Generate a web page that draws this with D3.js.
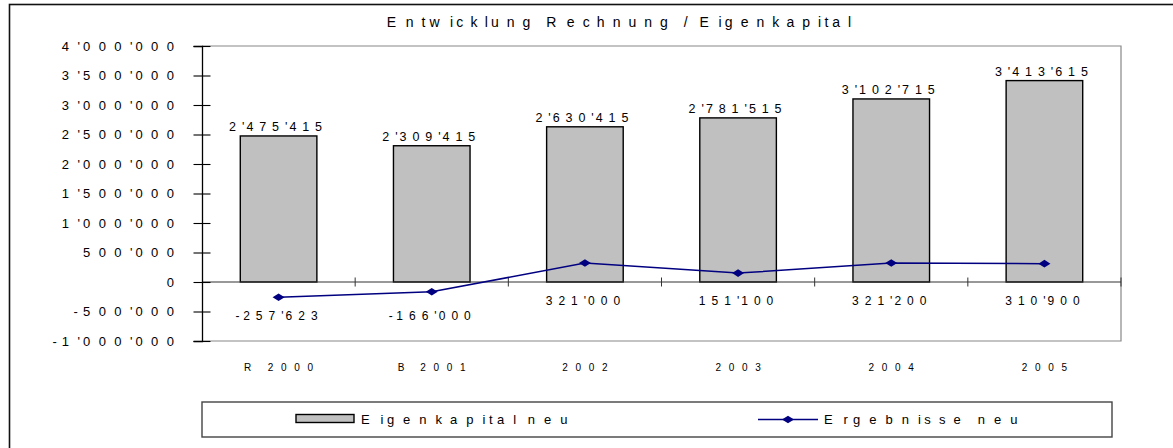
<!DOCTYPE html>
<meta charset="utf-8">
<style>
    body {
        margin: 0;
        background: #fff;
    }
    svg text {
        font-family: "Liberation Sans", Arial, sans-serif;
        fill: #000;
    }
</style>

<body>
    <script src="https://cdn.jsdelivr.net/npm/d3@7"></script>
    <script>
        var categories = ["R 2000", "B 2001", "2002", "2003", "2004", "2005"];
        var eigenkapital = [2475415, 2309415, 2630415, 2781515, 3102715, 3413615];
        var ergebnisse = [-257623, -166000, 321000, 151100, 321200, 310900];
        var yTicks = [-1000000, -500000, 0, 500000, 1000000, 1500000, 2000000, 2500000, 3000000, 3500000, 4000000];
        var seriesNames = ["Eigenkapital neu", "Ergebnisse neu"];
        var title = "Entwicklung Rechnung / Eigenkapital";

        var width = 1173,
            height = 448;

        var fmt = d3.formatLocale({
            decimal: ".",
            thousands: "'",
            grouping: [3],
            currency: ["", ""],
            minus: "-"
        }).format(",d");

        var svg = d3.select("body").append("svg")
            .attr("width", width)
            .attr("height", height);

        // the old chart spreads every glyph out: advance = s * natural width
        var ctx = document.createElement("canvas").getContext("2d");

        function spaced(parent, str, x, y, size, s, anchor) {
            ctx.font = size + 'px "Liberation Sans", Arial, sans-serif';
            var chars = str.split(""),
                pos = [],
                cur = 0;
            chars.forEach(function (c) {
                pos.push(cur);
                cur += ctx.measureText(c).width * s;
            });
            var span = pos[pos.length - 1] + ctx.measureText(chars[chars.length - 1]).width;
            var x0 = anchor === "end" ? x - span : anchor === "middle" ? x - span / 2 : x;
            return parent.append("text")
                .attr("x", pos.map(function (p) { return (x0 + p).toFixed(2); }).join(" "))
                .attr("y", y)
                .attr("dy", ".35em")
                .style("font-size", size + "px")
                .text(str);
        }

        var x = d3.scaleBand()
            .domain(categories)
            .range([202, 1121])
            .paddingInner(0.5)
            .paddingOuter(0.25);

        var y = d3.scaleLinear()
            .domain([-1000000, 4000000])
            .range([341, 46]);

        // outer frame
        svg.append("rect")
            .attr("x", 9.5).attr("y", 4.5)
            .attr("width", 1300).attr("height", 600)
            .attr("fill", "none")
            .attr("stroke", "#111")
            .attr("stroke-width", 1.6);

        spaced(svg, title, 619, 22, 14, 2.03, "middle");

        // plot area frame (grey)
        svg.append("path")
            .attr("d", "M" + x.range()[0] + "," + y(4000000) + "H" + x.range()[1] + "V" + y(-1000000) + "H" + x.range()[0])
            .attr("fill", "none")
            .attr("stroke", "#888")
            .attr("stroke-width", 1.2);

        // bars
        svg.append("g").selectAll("rect")
            .data(eigenkapital)
            .join("rect")
            .attr("x", function (d, i) { return x(categories[i]); })
            .attr("y", function (d) { return y(d); })
            .attr("width", x.bandwidth())
            .attr("height", function (d) { return y(0) - y(d); })
            .attr("fill", "#c0c0c0")
            .attr("stroke", "#000")
            .attr("stroke-width", 1.4);

        eigenkapital.forEach(function (d, i) {
            spaced(svg, fmt(d), x(categories[i]) + x.bandwidth() / 2 - 3, y(d) - 9, 12.5, 1.85, "middle");
        });

        // zero line with crossing ticks at band edges
        svg.append("line")
            .attr("x1", x.range()[0]).attr("x2", x.range()[1])
            .attr("y1", y(0)).attr("y2", y(0))
            .attr("stroke", "#333")
            .attr("stroke-width", 1.1);

        svg.append("g").selectAll("line")
            .data(d3.range(1, categories.length + 1))
            .join("line")
            .attr("x1", function (k) { return x.range()[0] + k * x.step(); })
            .attr("x2", function (k) { return x.range()[0] + k * x.step(); })
            .attr("y1", y(0) - 4.5)
            .attr("y2", y(0) + 4.5)
            .attr("stroke", "#333")
            .attr("stroke-width", 1);

        // y axis
        var yAxis = svg.append("g")
            .attr("transform", "translate(" + x.range()[0] + ",0)")
            .call(d3.axisLeft(y).tickValues(yTicks).tickSize(8.5).tickFormat(""));
        yAxis.select(".domain").attr("stroke", "#000").attr("stroke-width", 1.3);
        yAxis.selectAll(".tick line").attr("x1", 8.5).attr("stroke", "#000").attr("stroke-width", 1.1);

        yTicks.forEach(function (t) {
            spaced(svg, fmt(t), 174, y(t), 13, 2.17, "end");
        });

        // category labels
        categories.forEach(function (c) {
            spaced(svg, c, x(c) + x.bandwidth() / 2, 367, 10, 2.38, "middle");
        });

        // line series
        var cx = function (i) { return x(categories[i]) + x.bandwidth() / 2; };

        svg.append("path")
            .datum(ergebnisse)
            .attr("d", d3.line()
                .x(function (d, i) { return cx(i); })
                .y(function (d) { return y(d); }))
            .attr("fill", "none")
            .attr("stroke", "#000080")
            .attr("stroke-width", 1.5);

        function diamond(g, px, py) {
            g.append("path")
                .attr("d", "M" + (px - 6) + "," + py + "L" + px + "," + (py - 3.8) + "L" + (px + 6) + "," + py + "L" + px + "," + (py + 3.8) + "Z")
                .attr("fill", "#000080");
        }

        var markers = svg.append("g");
        ergebnisse.forEach(function (d, i) {
            diamond(markers, cx(i), y(d));
            var ly = d < 0 ? y(-500000) + 4.5 : y(0) + 19;
            spaced(svg, fmt(d), cx(i) - 2, ly, 12, 1.9, "middle");
        });

        // legend
        svg.append("rect")
            .attr("x", 202).attr("y", 402)
            .attr("width", 910).attr("height", 35)
            .attr("fill", "#fff")
            .attr("stroke", "#444")
            .attr("stroke-width", 1.4);

        svg.append("rect")
            .attr("x", 296).attr("y", 414.5)
            .attr("width", 58).attr("height", 8)
            .attr("fill", "#c0c0c0")
            .attr("stroke", "#000")
            .attr("stroke-width", 1.4);
        spaced(svg, seriesNames[0], 361, 419, 13, 2.24, "start");

        svg.append("line")
            .attr("x1", 758).attr("x2", 818)
            .attr("y1", 419.5).attr("y2", 419.5)
            .attr("stroke", "#000080")
            .attr("stroke-width", 1.5);
        diamond(svg, 788, 419.5);
        spaced(svg, seriesNames[1], 824, 419, 13, 2.24, "start");
    </script>
</body>
